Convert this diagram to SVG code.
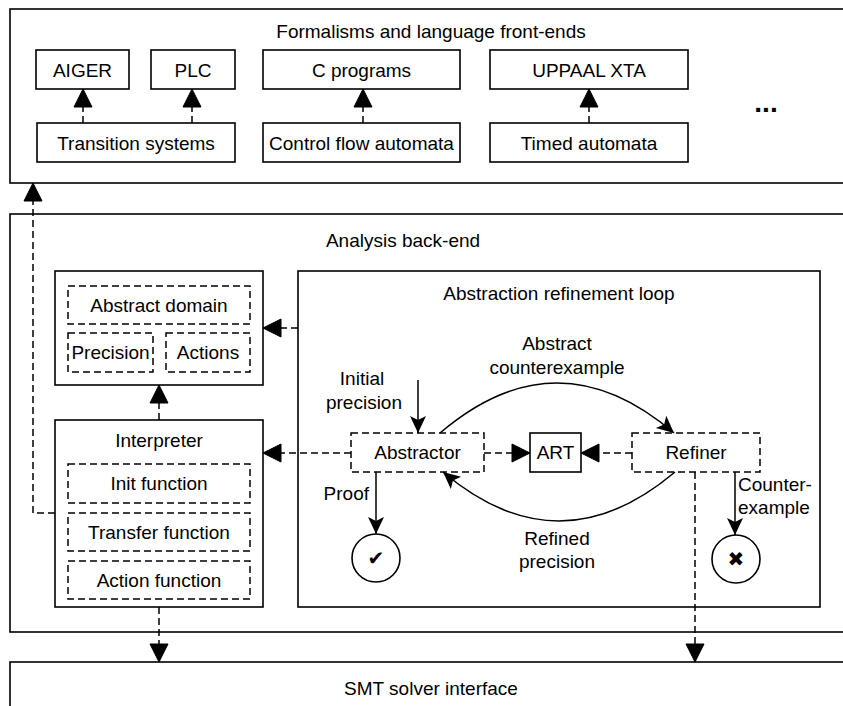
<svg xmlns="http://www.w3.org/2000/svg" width="843" height="706" viewBox="0 0 843 706">
<defs>
<style>
text{font-family:"Liberation Sans",Arial,sans-serif;font-size:19px;fill:#000;text-anchor:middle}
.box{fill:#fff;stroke:#000;stroke-width:1.6}
.dbox{fill:#fff;stroke:#000;stroke-width:1.5;stroke-dasharray:7,4}
.dl{fill:none;stroke:#000;stroke-width:1.5;stroke-dasharray:7,4;marker-end:url(#ah)}
.sl{fill:none;stroke:#000;stroke-width:1.5;marker-end:url(#sh)}
.sym{font-family:"DejaVu Sans",sans-serif;font-size:20px}
</style>
<marker id="ah" markerUnits="userSpaceOnUse" viewBox="-1 -1 21 20" markerWidth="21" markerHeight="20" refX="18" refY="9" orient="auto">
<path d="M0,0 L18,9 L0,18 Z" fill="#000" stroke="#000" stroke-width="1" stroke-linejoin="miter"/>
</marker>
<marker id="sh" markerUnits="userSpaceOnUse" viewBox="-1 -1 19 18" markerWidth="19" markerHeight="18" refX="17" refY="8" orient="auto">
<path d="M0,0 L17,8 L0,16 L4,8 Z" fill="#000" stroke="none"/>
</marker>
</defs>
<rect width="843" height="706" fill="#fff"/>

<g id="frontends">
<rect class="box" x="10" y="9" width="850" height="174"/>
<text x="431" y="38">Formalisms and language front-ends</text>
<text x="766" y="112" style="font-size:28px;font-weight:bold">...</text>
</g>
<g id="aiger"><rect class="box" x="36" y="50" width="93" height="39"/><text x="82.5" y="76.5">AIGER</text></g>
<g id="plc"><rect class="box" x="151" y="50" width="84" height="39"/><text x="193" y="76.5">PLC</text></g>
<g id="cprograms"><rect class="box" x="263" y="50" width="197" height="39"/><text x="361.5" y="76.5">C programs</text></g>
<g id="uppaal"><rect class="box" x="490" y="50" width="198" height="39"/><text x="589" y="76.5">UPPAAL XTA</text></g>
<g id="transition"><rect class="box" x="37" y="123" width="198" height="39"/><text x="136" y="149.5">Transition systems</text></g>
<g id="cfa"><rect class="box" x="263" y="123" width="197" height="39"/><text x="361.5" y="149.5">Control flow automata</text></g>
<g id="timed"><rect class="box" x="490" y="123" width="198" height="39"/><text x="589" y="149.5">Timed automata</text></g>

<g id="backend">
<rect class="box" x="10" y="214" width="850" height="418"/>
<text x="403" y="247">Analysis back-end</text>
</g>

<g id="smt">
<rect class="box" x="10" y="662" width="850" height="60"/>
<text x="431" y="695">SMT solver interface</text>
</g>

<g id="domain">
<rect class="box" x="55" y="271" width="208" height="114"/>
</g>
<g id="abstractdomain"><rect class="dbox" x="68" y="286" width="182" height="38"/><text x="159" y="312">Abstract domain</text></g>
<g id="precision"><rect class="dbox" x="68" y="333" width="85" height="39"/><text x="110.5" y="359">Precision</text></g>
<g id="actions"><rect class="dbox" x="166" y="333" width="84" height="39"/><text x="208" y="359">Actions</text></g>

<g id="interpreter">
<rect class="box" x="55" y="420" width="208" height="187"/>
<text x="159" y="447">Interpreter</text>
</g>
<g id="init"><rect class="dbox" x="68" y="464" width="182" height="39"/><text x="159" y="490">Init function</text></g>
<g id="transfer"><rect class="dbox" x="68" y="513" width="182" height="38"/><text x="159" y="539">Transfer function</text></g>
<g id="action"><rect class="dbox" x="68" y="561" width="182" height="38"/><text x="159" y="587">Action function</text></g>

<g id="loop">
<rect class="box" x="298" y="271" width="522" height="336"/>
<text x="559" y="300">Abstraction refinement loop</text>
</g>
<g id="abstractor"><rect class="dbox" x="351" y="433" width="133" height="39"/><text x="417.5" y="459">Abstractor</text></g>
<g id="art"><rect class="box" x="530" y="433" width="51" height="39"/><text x="555.5" y="459">ART</text></g>
<g id="refiner"><rect class="dbox" x="632" y="433" width="128" height="39"/><text x="696" y="459">Refiner</text></g>
<g id="proofnode"><circle class="box" cx="376" cy="558" r="24"/><text class="sym" x="376" y="565">✔</text></g>
<g id="cexnode"><circle class="box" cx="736" cy="559" r="24"/><text class="sym" x="736" y="566">✖</text></g>

<g id="connectors">
<line class="dl" x1="83" y1="123" x2="83" y2="89"/>
<line class="dl" x1="192" y1="123" x2="192" y2="89"/>
<line class="dl" x1="363" y1="123" x2="363" y2="89"/>
<line class="dl" x1="589" y1="123" x2="589" y2="89"/>
<polyline class="dl" points="55,513 33,513 33,183"/>
<line class="dl" x1="159" y1="420" x2="159" y2="385"/>
<line class="dl" x1="298" y1="328" x2="263" y2="328"/>
<line class="dl" x1="351" y1="453" x2="263" y2="453"/>
<line class="dl" x1="484" y1="453" x2="530" y2="453"/>
<line class="dl" x1="632" y1="453" x2="581" y2="453"/>
<line class="dl" x1="159" y1="607" x2="159" y2="662"/>
<line class="dl" x1="695" y1="472" x2="695" y2="662"/>
<line class="sl" x1="418" y1="380" x2="418" y2="433"/>
<line class="sl" x1="376" y1="472" x2="376" y2="534"/>
<line class="sl" x1="735" y1="472" x2="735" y2="535"/>
<path class="sl" d="M440,433 Q557,333 674,433"/>
<path class="sl" d="M675,472 Q559,570 443,472"/>
<text x="557" y="350">Abstract</text>
<text x="557" y="374">counterexample</text>
<text x="362" y="385">Initial</text>
<text x="364" y="409">precision</text>
<text x="369" y="500" style="text-anchor:end">Proof</text>
<text x="738" y="491" style="text-anchor:start">Counter-</text>
<text x="738" y="514" style="text-anchor:start">example</text>
<text x="557" y="545">Refined</text>
<text x="557" y="568">precision</text>
</g>
</svg>
